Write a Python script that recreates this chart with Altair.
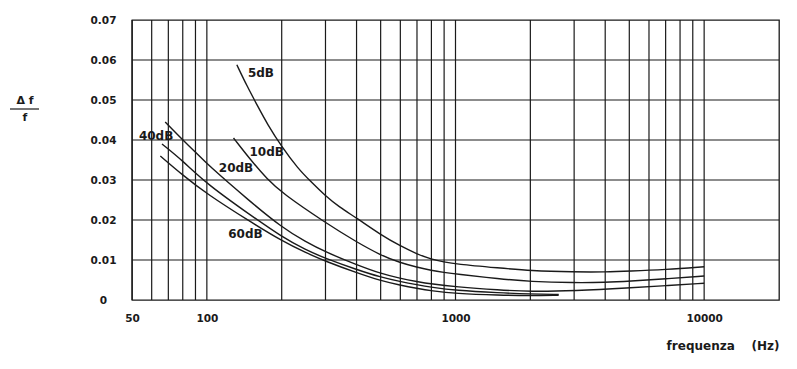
import altair as alt
import pandas as pd

# ---- data ----
freq_5 = [132, 145, 160, 175, 200, 233, 260, 300, 340, 400, 500, 600, 700, 800, 900, 1000,
          1500, 2000, 3000, 4000, 5000, 7000, 10000]
val_5 = [0.0588, 0.0535, 0.0485, 0.0440, 0.0383, 0.0328, 0.0298, 0.0260, 0.0233, 0.0205,
         0.0163, 0.0135, 0.0115, 0.0102, 0.0095, 0.0090, 0.0080, 0.0073, 0.0070, 0.0070,
         0.0072, 0.0076, 0.0083]

freq_10 = [128, 150, 175, 200, 300, 400, 500, 600, 700, 800, 900, 1000, 1500, 2000, 3000,
           4000, 5000, 7000, 10000]
val_10 = [0.0405, 0.0350, 0.0302, 0.0268, 0.0193, 0.0145, 0.0112, 0.0093, 0.0082, 0.0074,
          0.0069, 0.0065, 0.0053, 0.0046, 0.0043, 0.0044, 0.0047, 0.0053, 0.0060]

freq_20 = [68, 80, 90, 100, 150, 200, 250, 300, 400, 500, 600, 700, 800, 1000, 1500, 2000,
           3000, 5000, 7000, 10000]
val_20 = [0.0445, 0.0400, 0.0370, 0.0340, 0.0245, 0.0182, 0.0145, 0.0120, 0.0088, 0.0066,
          0.0054, 0.0046, 0.0040, 0.0033, 0.0025, 0.0021, 0.0023, 0.0030, 0.0036, 0.0042]

freq_40 = [66, 80, 100, 150, 200, 250, 300, 400, 500, 600, 700, 800, 1000, 1500, 2000, 2600]
val_40 = [0.0390, 0.0348, 0.0290, 0.0212, 0.0158, 0.0125, 0.0104, 0.0076, 0.0057, 0.0046,
          0.0038, 0.0032, 0.0024, 0.0018, 0.0015, 0.0014]

freq_60 = [65, 80, 100, 150, 200, 250, 300, 400, 500, 600, 700, 800, 1000, 1500, 2000, 2600]
val_60 = [0.0360, 0.0312, 0.0265, 0.0195, 0.0148, 0.0118, 0.0097, 0.0068, 0.0048, 0.0037,
          0.0029, 0.0023, 0.0016, 0.0012, 0.0011, 0.0012]

curve_names = ["5dB", "10dB", "20dB", "40dB", "60dB"]
label_freq = [165, 174, 131, 62.5, 143]
label_val = [0.0568, 0.037, 0.033, 0.041, 0.0165]

grid_freq = [50, 60, 70, 80, 90, 100, 200, 300, 400, 500, 600, 700, 800, 900,
             1000, 2000, 3000, 4000, 5000, 6000, 7000, 8000, 9000, 10000]
grid_val = [0.01, 0.02, 0.03, 0.04, 0.05, 0.06]
x_tick_labels = [50, 100, 1000, 10000]
y_tick_values = [0, 0.01, 0.02, 0.03, 0.04, 0.05, 0.06, 0.07]

INK = "#1a1a1a"
FONT = "DejaVu Sans"

rows = []
for name, fs, vs in zip(curve_names, [freq_5, freq_10, freq_20, freq_40, freq_60],
                        [val_5, val_10, val_20, val_40, val_60]):
    for i, (f, v) in enumerate(zip(fs, vs)):
        rows.append({"curve": name, "freq": f, "val": v, "order": i})
curves_df = pd.DataFrame(rows)
labels_df = pd.DataFrame({"curve": curve_names, "freq": label_freq, "val": label_val})
vgrid_df = pd.DataFrame({"freq": grid_freq})
hgrid_df = pd.DataFrame({"val": grid_val})

xscale = alt.Scale(type="log", domain=[50, 20000])
yscale = alt.Scale(domain=[0, 0.07])

x_axis = alt.Axis(values=x_tick_labels, format="d", grid=False, ticks=False, tickSize=0,
                  domain=False, labelFont=FONT, labelFontWeight="bold", labelFontSize=10.5,
                  labelColor=INK, labelPadding=18, labelBaseline="middle", labelFlush=False,
                  title="frequenza\u00a0\u00a0\u00a0\u00a0(Hz)", titleFont=FONT, titleFontSize=12,
                  titleFontWeight="bold", titleColor=INK, titleX=647, titleY=45,
                  titleAlign="right", titleBaseline="middle")
y_axis = alt.Axis(values=y_tick_values, grid=False, ticks=False, tickSize=0, domain=False,
                  labelExpr="datum.value == 0 ? '0' : format(datum.value, '.2f')",
                  labelFont=FONT, labelFontWeight="bold", labelFontSize=10.5, labelColor=INK,
                  labelAlign="center", labelPadding=29, labelFlush=False, title=None)

base_x = alt.X("freq:Q", scale=xscale, axis=x_axis)
base_y = alt.Y("val:Q", scale=yscale, axis=y_axis)

vgrid = alt.Chart(vgrid_df).mark_rule(color=INK, strokeWidth=1.2).encode(
    x=alt.X("freq:Q", scale=xscale, axis=x_axis))
hgrid = alt.Chart(hgrid_df).mark_rule(color=INK, strokeWidth=1.2).encode(
    y=alt.Y("val:Q", scale=yscale, axis=y_axis))

lines = alt.Chart(curves_df).mark_line(color=INK, strokeWidth=1.4, interpolate="basis").encode(
    x=base_x, y=base_y, detail="curve:N", order="order:Q")

texts = alt.Chart(labels_df).mark_text(font=FONT, fontWeight="bold", fontSize=12, color=INK).encode(
    x=base_x, y=base_y, text="curve:N")

frac_df = pd.DataFrame({"t": ["\u0394 f"]})
frac_top = alt.Chart(frac_df).mark_text(font=FONT, fontWeight="bold", fontSize=11, color=INK).encode(
    text="t:N", x=alt.value(-107), y=alt.value(81))
frac_bar = alt.Chart(frac_df).mark_rule(color=INK, strokeWidth=1.2).encode(
    x=alt.value(-122), x2=alt.value(-93), y=alt.value(89))
frac_bot = alt.Chart(pd.DataFrame({"t": ["f"]})).mark_text(font=FONT, fontWeight="bold", fontSize=11, color=INK).encode(
    text="t:N", x=alt.value(-107), y=alt.value(98))

chart = alt.layer(vgrid, hgrid, lines, texts, frac_top, frac_bar, frac_bot).properties(
    width=647, height=280,
    padding={"left": 124, "top": 12, "right": 10, "bottom": 60},
    autosize=alt.AutoSizeParams(type="none"),
    background="white",
).configure_view(stroke=INK, strokeWidth=1.3)

chart.save("out.html", embed_options={"renderer": "svg", "actions": False})
